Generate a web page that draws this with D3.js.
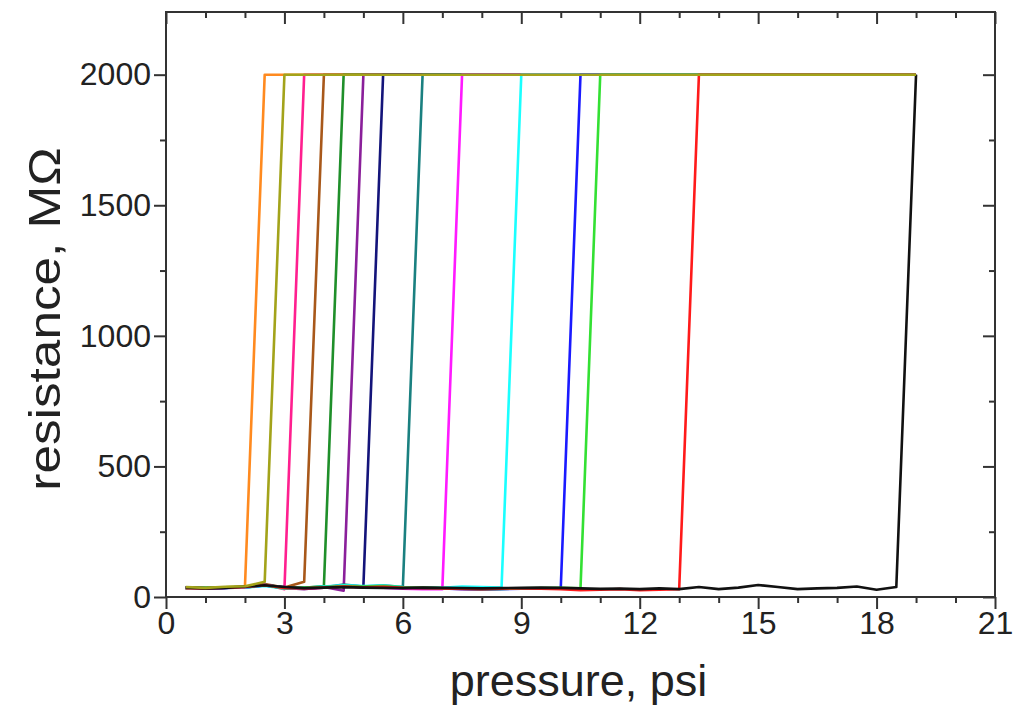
<!DOCTYPE html>
<html>
<head>
<meta charset="utf-8">
<script src="https://cdn.jsdelivr.net/npm/d3@7"></script>
<style>
  body { margin: 0; background: #fff; }
  text { font-family: "Liberation Sans", Arial, sans-serif; fill: #222; }
</style>
</head>
<body>
<div id="chart"></div>
<script>
var width = 1018, height = 709;
var margin = {top: 12, right: 23, bottom: 112, left: 166};

// pressure grid (psi) shared by all runs
var pressure = [0.5, 1, 1.5, 2, 2.5, 3, 3.5, 4, 4.5, 5, 5.5, 6, 6.5, 7, 7.5, 8, 8.5, 9, 9.5, 10,
  10.5, 11, 11.5, 12, 12.5, 13, 13.5, 14, 14.5, 15, 15.5, 16, 16.5, 17, 17.5, 18, 18.5, 19];
var saturation = 2000;   // instrument limit, MOhm
var pEnd = 19;

var runColors = ["#ff8a1f", "#a3a31a", "#ff1f8f", "#a8581a", "#1f8f2a", "#8a1f9a", "#14147a",
  "#1a8080", "#ff1aff", "#1affff", "#1a1aff", "#33e033", "#ff1a1a", "#111111"];

// resistance before breakdown, one value per pressure step
var lowOrange = [36, 34, 37, 40];
var lowOlive = [38, 35, 39, 41, 58];
var lowPink = [34, 33, 36, 38, 48, 30];
var lowBrown = [35, 34, 36, 39, 50, 36, 58];
var lowGreen = [33, 35, 37, 36, 45, 33, 35, 42];
var lowPurple = [35, 33, 36, 38, 46, 35, 30, 38, 24];
var lowNavy = [36, 34, 35, 37, 44, 38, 32, 36, 45, 40];
var lowTeal = [34, 35, 36, 38, 47, 36, 35, 37, 48, 40, 45, 38];
var lowMagenta = [35, 33, 36, 37, 46, 34, 33, 36, 40, 38, 36, 32, 30, 30];
var lowCyan = [34, 34, 36, 37, 42, 33, 35, 40, 45, 42, 44, 38, 36, 35, 40, 38, 36];
var lowBlue = [36, 34, 35, 38, 44, 35, 34, 37, 41, 38, 40, 36, 35, 33, 30, 28, 30, 32, 33, 34];
var lowLime = [35, 35, 37, 39, 45, 34, 36, 38, 42, 40, 42, 37, 36, 34, 32, 30, 31, 33, 34, 35, 33];
var lowRed = [34, 33, 36, 38, 46, 35, 33, 36, 40, 37, 39, 35, 34, 33, 31, 30, 32, 33, 32, 30,
  26, 28, 30, 26, 28, 30];
var lowBlack = [37, 33, 35, 40, 45, 38, 34, 36, 38, 36, 35, 34, 36, 35, 34, 33, 34, 35, 36, 35,
  33, 31, 32, 30, 33, 30, 38, 30, 36, 46, 38, 30, 33, 35, 40, 28, 38];

var runs = [lowOrange, lowOlive, lowPink, lowBrown, lowGreen, lowPurple, lowNavy, lowTeal,
  lowMagenta, lowCyan, lowBlue, lowLime, lowRed, lowBlack];

var xTicks = [0, 3, 6, 9, 12, 15, 18, 21];
var yTicks = [0, 500, 1000, 1500, 2000];

var svg = d3.select('#chart').append('svg')
  .attr('width', width)
  .attr('height', height);

var x = d3.scaleLinear().domain([0, 21]).range([margin.left, width - margin.right]);
var y = d3.scaleLinear().domain([0, 2240]).range([height - margin.bottom, margin.top]);

var series = runs.map(function(low, i) {
  var pts = low.map(function(v, j) { return [pressure[j], v]; });
  pts.push([pressure[low.length], saturation]);
  pts.push([pEnd, saturation]);
  return {color: runColors[i], pts: pts};
});
// olive trace sits on top in the original plot
var order = series.filter(function(d, i) { return i != 1; }).concat([series[1]]);

var line = d3.line()
  .x(function(d) { return x(d[0]); })
  .y(function(d) { return y(d[1]); });

svg.append('g').selectAll('path')
  .data(order)
  .enter().append('path')
  .attr('d', function(d) { return line(d.pts); })
  .attr('fill', 'none')
  .attr('stroke', function(d) { return d.color; })
  .attr('stroke-width', 2.6)
  .attr('stroke-linejoin', 'round');

// axes
var x0 = height - margin.bottom, yTop = margin.top;
var xl = margin.left, xr = width - margin.right;
var xMinor = d3.range(0, 22, 1).filter(function(v) { return v % 3 != 0; });
var yMinor = [250, 750, 1250, 1750];

function styleAxis(g) {
  g.select('.domain').remove();
  g.selectAll('line').attr('stroke', '#333').attr('stroke-width', 2);
  g.selectAll('text').style('font-size', '32px').attr('fill', '#222');
}

svg.append('g').attr('transform', 'translate(0,' + x0 + ')')
  .call(d3.axisBottom(x).tickValues(xTicks).tickSize(12).tickPadding(2).tickFormat(d3.format('d')))
  .call(styleAxis);
svg.append('g').attr('transform', 'translate(0,' + x0 + ')')
  .call(d3.axisBottom(x).tickValues(xMinor).tickSize(6).tickFormat(''))
  .call(styleAxis);
svg.append('g').attr('transform', 'translate(0,' + yTop + ')')
  .call(d3.axisTop(x).tickValues(xTicks).tickSize(-12).tickFormat(''))
  .call(styleAxis);
svg.append('g').attr('transform', 'translate(0,' + yTop + ')')
  .call(d3.axisTop(x).tickValues(xMinor).tickSize(-6).tickFormat(''))
  .call(styleAxis);

svg.append('g').attr('transform', 'translate(' + xl + ',0)')
  .call(d3.axisLeft(y).tickValues(yTicks).tickSize(12).tickPadding(3).tickFormat(d3.format('d')))
  .call(styleAxis);
svg.append('g').attr('transform', 'translate(' + xl + ',0)')
  .call(d3.axisLeft(y).tickValues(yMinor).tickSize(6).tickFormat(''))
  .call(styleAxis);
svg.append('g').attr('transform', 'translate(' + xr + ',0)')
  .call(d3.axisRight(y).tickValues(yTicks).tickSize(-12).tickFormat(''))
  .call(styleAxis);
svg.append('g').attr('transform', 'translate(' + xr + ',0)')
  .call(d3.axisRight(y).tickValues(yMinor).tickSize(-6).tickFormat(''))
  .call(styleAxis);

svg.append('rect')
  .attr('x', xl).attr('y', yTop)
  .attr('width', xr - xl).attr('height', x0 - yTop)
  .attr('fill', 'none').attr('stroke', '#333').attr('stroke-width', 2);

svg.append('text')
  .attr('x', (xl + xr) / 2 - 2)
  .attr('y', 696)
  .attr('text-anchor', 'middle')
  .style('font-size', '45px')
  .text('pressure, psi');

svg.append('text')
  .attr('transform', 'translate(60,319) rotate(-90) scale(1.14,1)')
  .attr('text-anchor', 'middle')
  .style('font-size', '45px')
  .text('resistance, MΩ');
</script>
</body>
</html>
